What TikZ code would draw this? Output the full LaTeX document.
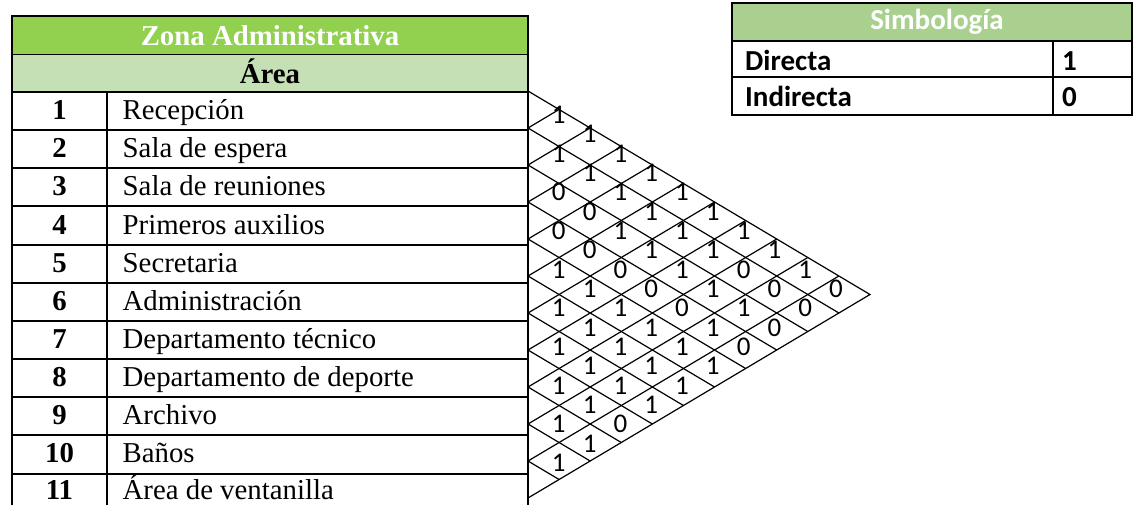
\documentclass[tikz,border=0pt]{standalone}
\usepackage{fontspec}
\setmainfont{Liberation Serif}
\newfontfamily\calibfont{Carlito}
\usetikzlibrary{positioning}
\definecolor{zonaGreen}{HTML}{92D050}
\definecolor{areaGreen}{HTML}{C5E0B4}
\definecolor{simbGreen}{HTML}{A9D08E}
\begin{document}
\begin{tikzpicture}[x=1pt,y=-1pt,rule/.style={line width=2pt},tri/.style={line width=1.2pt},num/.style={anchor=base,inner sep=0pt,font=\bfseries\fontsize{28.8}{32}\selectfont},zone/.style={anchor=base west,inner sep=0pt,font=\fontsize{28.8}{32}\selectfont},head/.style={anchor=base,inner sep=0pt,font=\bfseries\fontsize{28.8}{32}\selectfont},rel/.style={inner sep=0pt,font=\calibfont\fontsize{27}{30}\selectfont},key/.style={anchor=base west,inner sep=0pt,font=\calibfont\bfseries\fontsize{29}{32}\selectfont}]
\useasboundingbox (0,0) rectangle (1133,504);
\fill[zonaGreen] (12,16) rectangle (528,54);
\fill[areaGreen] (12,54) rectangle (528,92);
\node[head,text=white] (zona) at (270,45) {Zona Administrativa};
\node[head] (area) at (270,83) {Área};
\node[num] (n1) at (59.5,119.6) {1};
\node[num] (n2) at (59.5,157.7) {2};
\node[num] (n3) at (59.5,195.9) {3};
\node[num] (n4) at (59.5,234.0) {4};
\node[num] (n5) at (59.5,272.2) {5};
\node[num] (n6) at (59.5,310.3) {6};
\node[num] (n7) at (59.5,348.5) {7};
\node[num] (n8) at (59.5,386.6) {8};
\node[num] (n9) at (59.5,424.8) {9};
\node[num] (n10) at (59.5,462.9) {10};
\node[num] (n11) at (59.5,499.6) {11};
\node[zone] (z1) at (122.5,119.6) {Recepción};
\node[zone] (z2) at (122.5,157.7) {Sala de espera};
\node[zone] (z3) at (122.5,195.9) {Sala de reuniones};
\node[zone] (z4) at (122.5,234.0) {Primeros auxilios};
\node[zone] (z5) at (122.5,272.2) {Secretaria};
\node[zone] (z6) at (122.5,310.3) {Administración};
\node[zone] (z7) at (122.5,348.5) {Departamento técnico};
\node[zone] (z8) at (122.5,386.6) {Departamento de deporte};
\node[zone] (z9) at (122.5,424.8) {Archivo};
\node[zone] (z10) at (122.5,462.9) {Baños};
\node[zone] (z11) at (122.5,499.6) {Área de ventanilla};
\draw[line width=1pt] (12,54) -- (528,54);
\draw[rule] (12,92) -- (528,92);
\draw[rule] (12,130.15) -- (528,130.15);
\draw[rule] (12,168.3) -- (528,168.3);
\draw[rule] (12,206.45) -- (528,206.45);
\draw[rule] (12,244.6) -- (528,244.6);
\draw[rule] (12,282.75) -- (528,282.75);
\draw[rule] (12,320.9) -- (528,320.9);
\draw[rule] (12,359.05) -- (528,359.05);
\draw[rule] (12,397.2) -- (528,397.2);
\draw[rule] (12,435.35) -- (528,435.35);
\draw[rule] (12,473.5) -- (528,473.5);
\draw[rule] (107,92) -- (107,506);
\draw[rule] (12,506) -- (12,16) -- (528,16) -- (528,506);
\begin{scope}[shift={(528,91)},x=31.09pt,y=-18.5pt]
\draw[tri] (0,0) -- (11,11) -- (0,22);
\draw[tri] (1,1) -- (0,2) -- (10,12);
\draw[tri] (2,2) -- (0,4) -- (9,13);
\draw[tri] (3,3) -- (0,6) -- (8,14);
\draw[tri] (4,4) -- (0,8) -- (7,15);
\draw[tri] (5,5) -- (0,10) -- (6,16);
\draw[tri] (6,6) -- (0,12) -- (5,17);
\draw[tri] (7,7) -- (0,14) -- (4,18);
\draw[tri] (8,8) -- (0,16) -- (3,19);
\draw[tri] (9,9) -- (0,18) -- (2,20);
\draw[tri] (10,10) -- (0,20) -- (1,21);
\end{scope}
\begin{scope}[shift={(528,76.3)},x=30.8pt,y=-19.33pt]
\node[rel] (p1-2) at (1,2) {1};
\node[rel] (p1-3) at (2,3) {1};
\node[rel] (p1-4) at (3,4) {1};
\node[rel] (p1-5) at (4,5) {1};
\node[rel] (p1-6) at (5,6) {1};
\node[rel] (p1-7) at (6,7) {1};
\node[rel] (p1-8) at (7,8) {1};
\node[rel] (p1-9) at (8,9) {1};
\node[rel] (p1-10) at (9,10) {1};
\node[rel] (p1-11) at (10,11) {0};
\node[rel] (p2-3) at (1,4) {1};
\node[rel] (p2-4) at (2,5) {1};
\node[rel] (p2-5) at (3,6) {1};
\node[rel] (p2-6) at (4,7) {1};
\node[rel] (p2-7) at (5,8) {1};
\node[rel] (p2-8) at (6,9) {1};
\node[rel] (p2-9) at (7,10) {0};
\node[rel] (p2-10) at (8,11) {0};
\node[rel] (p2-11) at (9,12) {0};
\node[rel] (p3-4) at (1,6) {0};
\node[rel] (p3-5) at (2,7) {0};
\node[rel] (p3-6) at (3,8) {1};
\node[rel] (p3-7) at (4,9) {1};
\node[rel] (p3-8) at (5,10) {1};
\node[rel] (p3-9) at (6,11) {1};
\node[rel] (p3-10) at (7,12) {1};
\node[rel] (p3-11) at (8,13) {0};
\node[rel] (p4-5) at (1,8) {0};
\node[rel] (p4-6) at (2,9) {0};
\node[rel] (p4-7) at (3,10) {0};
\node[rel] (p4-8) at (4,11) {0};
\node[rel] (p4-9) at (5,12) {0};
\node[rel] (p4-10) at (6,13) {1};
\node[rel] (p4-11) at (7,14) {0};
\node[rel] (p5-6) at (1,10) {1};
\node[rel] (p5-7) at (2,11) {1};
\node[rel] (p5-8) at (3,12) {1};
\node[rel] (p5-9) at (4,13) {1};
\node[rel] (p5-10) at (5,14) {1};
\node[rel] (p5-11) at (6,15) {1};
\node[rel] (p6-7) at (1,12) {1};
\node[rel] (p6-8) at (2,13) {1};
\node[rel] (p6-9) at (3,14) {1};
\node[rel] (p6-10) at (4,15) {1};
\node[rel] (p6-11) at (5,16) {1};
\node[rel] (p7-8) at (1,14) {1};
\node[rel] (p7-9) at (2,15) {1};
\node[rel] (p7-10) at (3,16) {1};
\node[rel] (p7-11) at (4,17) {1};
\node[rel] (p8-9) at (1,16) {1};
\node[rel] (p8-10) at (2,17) {1};
\node[rel] (p8-11) at (3,18) {0};
\node[rel] (p9-10) at (1,18) {1};
\node[rel] (p9-11) at (2,19) {1};
\node[rel] (p10-11) at (1,20) {1};
\end{scope}
\fill[simbGreen] (732,3) rectangle (1132,41);
\node[key,anchor=base,text=white] (simb) at (937,29) {Simbología};
\node[key] (directa) at (745,70) {Directa};
\node[key] (directaval) at (1062,70) {1};
\node[key] (indirecta) at (745,106.5) {Indirecta};
\node[key] (indirectaval) at (1062,106.5) {0};
\draw[rule] (732,41) -- (1132,41);
\draw[rule] (732,77) -- (1132,77);
\draw[rule] (1053,41) -- (1053,115);
\draw[rule] (732,3) rectangle (1132,115);
\end{tikzpicture}
\end{document}
